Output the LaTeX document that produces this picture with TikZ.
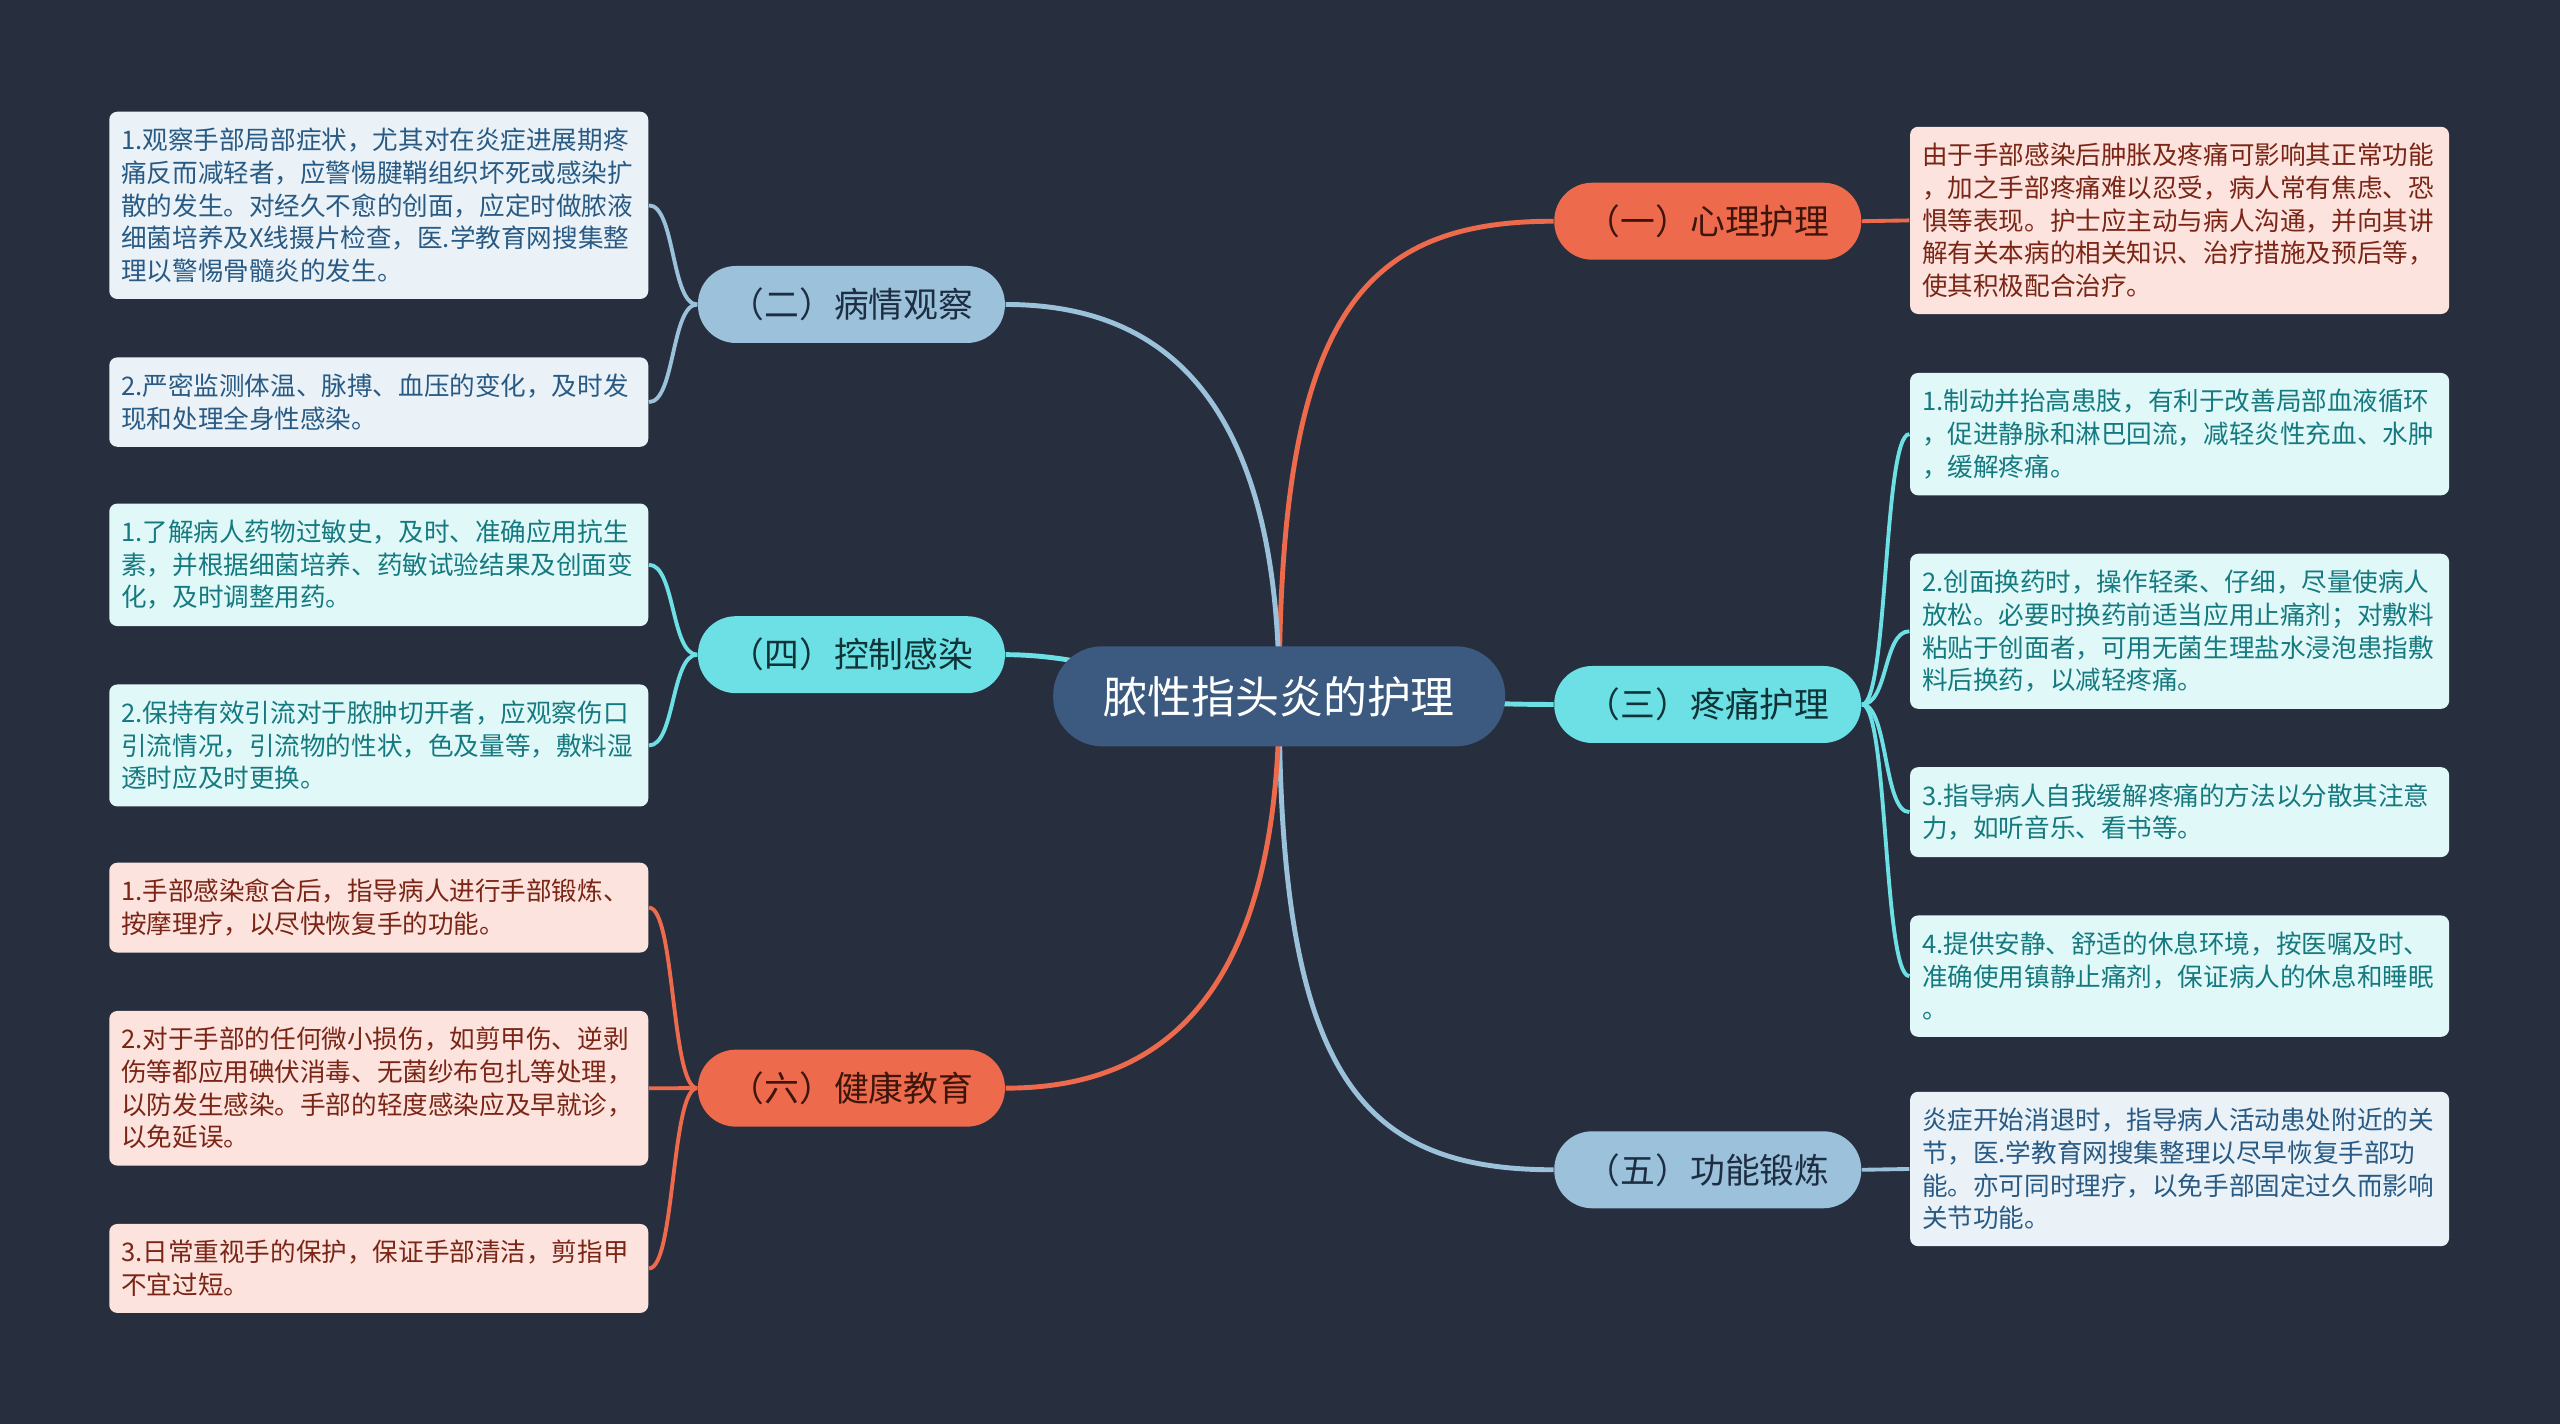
\documentclass[tikz,border=0pt]{standalone}
\usepackage{fontspec}
\setmainfont{Noto Sans CJK SC}
\usepackage{tikz}
\usetikzlibrary{positioning,backgrounds}
\definecolor{bgdark}{HTML}{272F3E}
\definecolor{rootfill}{HTML}{3C5A80}
\definecolor{warmfill}{HTML}{EE6A4C}
\definecolor{warmsoft}{HTML}{FCE3DE}
\definecolor{warmtext}{HTML}{7A2515}
\definecolor{warmdark}{HTML}{3E150B}
\definecolor{cyanfill}{HTML}{6DE0E5}
\definecolor{cyansoft}{HTML}{E1F8F8}
\definecolor{cyantext}{HTML}{157A80}
\definecolor{cyandark}{HTML}{0F3438}
\definecolor{bluefill}{HTML}{9BC1DB}
\definecolor{bluesoft}{HTML}{EAF2F8}
\definecolor{bluetext}{HTML}{285A84}
\definecolor{bluedark}{HTML}{1E2E42}
\tikzset{
  rootnode/.style={fill=rootfill,rounded corners=4.9mm,minimum width=4.52cm,minimum height=1cm,align=center,text=white,font=\fontsize{12.5pt}{15pt}\selectfont},
  topicnode/.style={rounded corners=3.8mm,minimum width=3.07cm,minimum height=0.77cm,align=center,font=\fontsize{9.9pt}{12pt}\selectfont},
  leafnode/.style={rounded corners=0.8mm,text width=5.15cm,inner xsep=0.12cm,inner ysep=4.65pt,align=left,font=\fontsize{7.28pt}{9.3pt}\selectfont},
  mainlink/.style={line width=1.4pt},
  leaflink/.style={line width=1.1pt}
}

\begin{document}
\begin{tikzpicture}[x=0.016327cm,y=-0.016327cm]
  % centre and the six topics
  \node[rootnode] (root) at (783.5,426.5) {脓性指头炎的护理};
  \node[topicnode,fill=warmfill,text=warmdark] (psych) at (1046,135.5) {（一）心理护理};
  \node[topicnode,fill=cyanfill,text=cyandark] (pain) at (1046,431.5) {（三）疼痛护理};
  \node[topicnode,fill=bluefill,text=bluedark] (rehab) at (1046,716.5) {（五）功能锻炼};
  \node[topicnode,fill=bluefill,text=bluedark] (watch) at (521.5,186.5) {（二）病情观察};
  \node[topicnode,fill=cyanfill,text=cyandark] (infect) at (521.5,401) {（四）控制感染};
  \node[topicnode,fill=warmfill,text=warmdark] (edu) at (521.5,666.5) {（六）健康教育};

  % right column
  \node[leafnode,fill=warmsoft,text=warmtext] (psych1) at (1335,135) {由于手部感染后肿胀及疼痛可影响其正常功能\\，加之手部疼痛难以忍受，病人常有焦虑、恐\\惧等表现。护士应主动与病人沟通，并向其讲\\解有关本病的相关知识、治疗措施及预后等，\\使其积极配合治疗。};
  \node[leafnode,fill=cyansoft,text=cyantext,anchor=north] (pain1) at (1335,228) {1.制动并抬高患肢，有利于改善局部血液循环\\，促进静脉和淋巴回流，减轻炎性充血、水肿\\，缓解疼痛。};
  \node[leafnode,fill=cyansoft,text=cyantext,below=0.57cm of pain1] (pain2) {2.创面换药时，操作轻柔、仔细，尽量使病人\\放松。必要时换药前适当应用止痛剂；对敷料\\粘贴于创面者，可用无菌生理盐水浸泡患指敷\\料后换药，以减轻疼痛。};
  \node[leafnode,fill=cyansoft,text=cyantext,below=0.57cm of pain2] (pain3) {3.指导病人自我缓解疼痛的方法以分散其注意\\力，如听音乐、看书等。};
  \node[leafnode,fill=cyansoft,text=cyantext,below=0.57cm of pain3] (pain4) {4.提供安静、舒适的休息环境，按医嘱及时、\\准确使用镇静止痛剂，保证病人的休息和睡眠\\。};
  \node[leafnode,fill=bluesoft,text=bluetext] (rehab1) at (1335,716) {炎症开始消退时，指导病人活动患处附近的关\\节，医.学教育网搜集整理以尽早恢复手部功\\能。亦可同时理疗，以免手部固定过久而影响\\关节功能。};

  % left column
  \node[leafnode,fill=bluesoft,text=bluetext,anchor=north] (watch1) at (232,68) {1.观察手部局部症状，尤其对在炎症进展期疼\\痛反而减轻者，应警惕腱鞘组织坏死或感染扩\\散的发生。对经久不愈的创面，应定时做脓液\\细菌培养及X线摄片检查，医.学教育网搜集整\\理以警惕骨髓炎的发生。};
  \node[leafnode,fill=bluesoft,text=bluetext,below=0.57cm of watch1] (watch2) {2.严密监测体温、脉搏、血压的变化，及时发\\现和处理全身性感染。};
  \node[leafnode,fill=cyansoft,text=cyantext,anchor=north] (infect1) at (232,308) {1.了解病人药物过敏史，及时、准确应用抗生\\素，并根据细菌培养、药敏试验结果及创面变\\化，及时调整用药。};
  \node[leafnode,fill=cyansoft,text=cyantext,below=0.57cm of infect1] (infect2) {2.保持有效引流对于脓肿切开者，应观察伤口\\引流情况，引流物的性状，色及量等，敷料湿\\透时应及时更换。};
  \node[leafnode,fill=warmsoft,text=warmtext,anchor=north] (edu1) at (232,528) {1.手部感染愈合后，指导病人进行手部锻炼、\\按摩理疗，以尽快恢复手的功能。};
  \node[leafnode,fill=warmsoft,text=warmtext,below=0.57cm of edu1] (edu2) {2.对于手部的任何微小损伤，如剪甲伤、逆剥\\伤等都应用碘伏消毒、无菌纱布包扎等处理，\\以防发生感染。手部的轻度感染应及早就诊，\\以免延误。};
  \node[leafnode,fill=warmsoft,text=warmtext,below=0.57cm of edu2] (edu3) {3.日常重视手的保护，保证手部清洁，剪指甲\\不宜过短。};

  \begin{scope}[on background layer]
    \fill[bgdark] (0,0) rectangle (1568,872);
    % centre to topics
    \draw[mainlink,warmfill] (root.center) .. controls +(0,-230) and +(-120,0) .. (psych.west);
    \draw[mainlink,cyanfill] (root.center) .. controls +(60,0) and +(-60,0) .. (pain.west);
    \draw[mainlink,bluefill] (root.center) .. controls +(0,230) and +(-120,0) .. (rehab.west);
    \draw[mainlink,bluefill] (root.center) .. controls +(0,-196) and +(85,0) .. (watch.east);
    \draw[mainlink,cyanfill] (root.center) .. controls +(-60,0) and +(60,0) .. (infect.east);
    \draw[mainlink,warmfill] (root.center) .. controls +(0,196) and +(85,0) .. (edu.east);
    % topics to leaves
    \draw[leaflink,warmfill] (psych.east) -- (psych1.west);
    \draw[leaflink,bluefill] (rehab.east) -- (rehab1.west);
    \foreach \leaf in {pain1,pain2,pain3,pain4}
      \draw[leaflink,cyanfill] (pain.east) .. controls +(16,0) and +(-16,0) .. (\leaf.west);
    \foreach \leaf in {watch1,watch2}
      \draw[leaflink,bluefill] (watch.west) .. controls +(-16,0) and +(16,0) .. (\leaf.east);
    \foreach \leaf in {infect1,infect2}
      \draw[leaflink,cyanfill] (infect.west) .. controls +(-16,0) and +(16,0) .. (\leaf.east);
    \foreach \leaf in {edu1,edu2,edu3}
      \draw[leaflink,warmfill] (edu.west) .. controls +(-16,0) and +(16,0) .. (\leaf.east);
  \end{scope}
\end{tikzpicture}
\end{document}
